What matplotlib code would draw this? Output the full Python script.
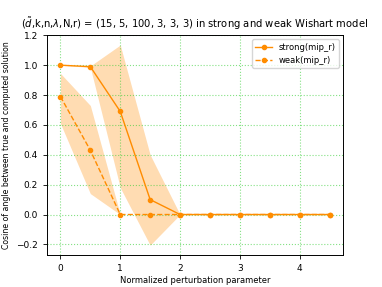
import matplotlib
matplotlib.use("Agg")
import matplotlib.pyplot as plt
import numpy as np

x = [0, 0.5, 1.0, 1.5, 2.0, 2.5, 3.0, 3.5, 4.0, 4.5]
strong_mean = [1.0, 0.99, 0.69, 0.10, 0.0, 0.0, 0.0, 0.0, 0.0, 0.0]
strong_upper = [1.0, 0.995, 1.135, 0.40, 0.0, 0.0, 0.0, 0.0, 0.0, 0.0]
strong_lower = [1.0, 0.985, 0.18, -0.205, 0.0, 0.0, 0.0, 0.0, 0.0, 0.0]
weak_mean = [0.79, 0.43, 0.0, 0.0, 0.0, 0.0, 0.0, 0.0, 0.0, 0.0]
weak_upper = [0.945, 0.73, 0.0, 0.0, 0.0, 0.0, 0.0, 0.0, 0.0, 0.0]
weak_lower = [0.61, 0.14, 0.0, 0.0, 0.0, 0.0, 0.0, 0.0, 0.0, 0.0]

fig = plt.figure(figsize=(3.82, 2.87), dpi=100)
ax = fig.add_axes([0.123, 0.111, 0.775, 0.767])

c = 'darkorange'
ax.plot(x, strong_mean, '-o', color=c, markersize=3, lw=1.0, label='strong(mip_r)')
ax.fill_between(x, strong_lower, strong_upper, color=c, alpha=0.3, lw=0)
ax.plot(x, weak_mean, '--o', color=c, markersize=3, lw=1.0, label='weak(mip_r)')
ax.fill_between(x, weak_lower, weak_upper, color=c, alpha=0.3, lw=0)

ax.set_xticks([0, 1, 2, 3, 4])
ax.set_yticks([-0.2, 0.0, 0.2, 0.4, 0.6, 0.8, 1.0, 1.2])
ax.tick_params(labelsize=6.5, length=3, width=0.6)
for s in ax.spines.values():
    s.set_linewidth(0.7)
ax.grid(True, color='limegreen', linestyle=':', linewidth=0.8, alpha=0.6)
ax.set_xlabel('Normalized perturbation parameter', fontsize=6.0, labelpad=2)
ax.set_ylabel('Cosine of angle between true and computed solution', fontsize=5.6, labelpad=4)
ax.set_title(r'($\tilde{d}$,k,n,$\lambda$,N,r) = (15, 5, 100, 3, 3, 3) in strong and weak Wishart model', fontsize=7.2, pad=5)
ax.legend(loc='upper right', fontsize=6.0)

fig.savefig('out.png', dpi=100)
